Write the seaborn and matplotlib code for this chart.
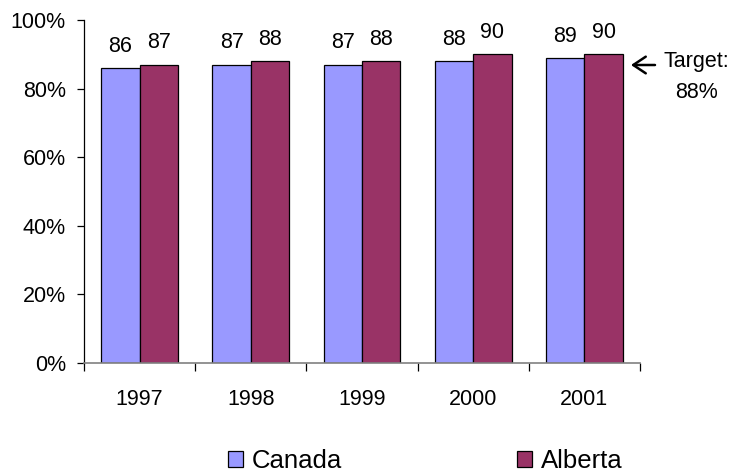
import matplotlib
matplotlib.use("Agg")
import matplotlib.pyplot as plt
import seaborn as sns
import pandas as pd
import numpy as np

years = ["1997", "1998", "1999", "2000", "2001"]
canada = [86, 87, 87, 88, 89]
alberta = [87, 88, 88, 90, 90]
series_names = ["Canada", "Alberta"]
colors = ["#9999FF", "#993366"]
yticks = [0, 20, 40, 60, 80, 100]
target_label = "Target:"
target_value = "88%"

df = pd.DataFrame({
    "Year": years * 2,
    "Value": canada + alberta,
    "Region": [series_names[0]] * len(years) + [series_names[1]] * len(years),
})

sns.set_style("white")
plt.rcParams["font.family"] = ["Liberation Sans", "DejaVu Sans"]
plt.rcParams["text.color"] = "black"
plt.rcParams["xtick.color"] = "black"
plt.rcParams["ytick.color"] = "black"

FS = 15.5

fig = plt.figure(figsize=(7.44, 4.74), dpi=100)
ax = fig.add_axes([84 / 744, 1 - 363 / 474, (640 - 84) / 744, (363 - 20) / 474])

sns.barplot(data=df, x="Year", y="Value", hue="Region", palette=colors,
            saturation=1, width=0.69, edgecolor="black", linewidth=0.9,
            ax=ax, legend=True)

for cont in ax.containers:
    ax.bar_label(cont, labels=[f"{int(v)}" for v in cont.datavalues],
                 padding=8, fontsize=FS, color="black")

ax.set_ylim(0, 100)
ax.set_xlim(-0.5, len(years) - 0.5)
ax.set_yticks(yticks)
ax.set_yticklabels([f"{v}%" for v in yticks], fontsize=FS)
ax.set_xticks(np.arange(-0.5, len(years)), labels=[""] * (len(years) + 1))
ax.set_xticks(np.arange(len(years)), labels=years, minor=True)
ax.tick_params(axis="x", which="major", length=6, width=0.9, color="black", direction="out", bottom=True)
ax.tick_params(axis="x", which="minor", length=0, labelsize=FS, pad=19, bottom=True, labelcolor="black")
ax.tick_params(axis="y", length=5, width=0.9, color="black", direction="out", pad=8, left=True, labelcolor="black")
ax.set_xlabel("")
ax.set_ylabel("")
for s in ["top", "right"]:
    ax.spines[s].set_visible(False)
ax.spines["left"].set_color("black")
ax.spines["left"].set_linewidth(0.9)
ax.spines["bottom"].set_color("#808080")
ax.spines["bottom"].set_linewidth(1.2)

# Target annotation
ax.annotate("", xy=(631 / 744, 1 - 65 / 474), xycoords="figure fraction",
            xytext=(655 / 744, 1 - 65 / 474), textcoords="figure fraction",
            arrowprops=dict(arrowstyle="->,head_length=0.45,head_width=0.3",
                            mutation_scale=20, color="black", lw=1.8,
                            shrinkA=0, shrinkB=0))
fig.text(696 / 744, 1 - 61 / 474, target_label, ha="center", va="center", fontsize=FS)
fig.text(696 / 744, 1 - 92 / 474, target_value, ha="center", va="center", fontsize=FS)

# Legend
handles, labels = ax.get_legend_handles_labels()
if ax.legend_:
    ax.legend_.remove()
fig.legend(handles, labels, loc="center", bbox_to_anchor=(425 / 744, 1 - 461 / 474),
           ncol=2, frameon=False, fontsize=18.5, handlelength=0.6, handleheight=0.6,
           handletextpad=0.33, columnspacing=6.8, borderaxespad=0)

fig.savefig("out.png", dpi=100)
